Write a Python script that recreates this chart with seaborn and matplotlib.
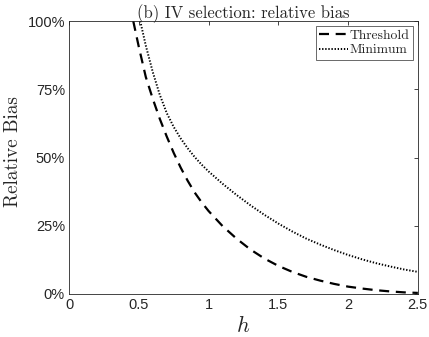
import numpy as np
import pandas as pd
import matplotlib
matplotlib.use("Agg")
import matplotlib.pyplot as plt
import seaborn as sns
from matplotlib.ticker import FuncFormatter

# values (relative bias in %)
h_threshold = [0.46, 0.5, 0.55, 0.6, 0.65, 0.7, 0.75, 0.8, 0.85, 0.9, 0.95, 1.0,
               1.1, 1.2, 1.3, 1.4, 1.5, 1.6, 1.7, 1.8, 1.9, 2.0, 2.1, 2.2, 2.3, 2.4, 2.5]
bias_threshold = [100, 90.5, 79.5, 71.5, 64.2, 57.7, 51.7, 46.3, 41.5, 37.2, 33.6, 30.4,
                  24.9, 20.3, 16.3, 13.0, 10.3, 8.1, 6.3, 4.9, 3.7, 2.7, 2.0, 1.4, 0.95, 0.6, 0.4]

h_minimum = [0.51, 0.55, 0.6, 0.65, 0.7, 0.75, 0.8, 0.85, 0.9, 0.95, 1.0,
             1.1, 1.2, 1.3, 1.4, 1.5, 1.6, 1.7, 1.8, 1.9, 2.0, 2.1, 2.2, 2.3, 2.4, 2.5]
bias_minimum = [100, 91.0, 81.3, 73.0, 66.3, 61.2, 57.0, 53.4, 50.2, 47.4, 44.9,
                40.4, 36.3, 32.5, 29.0, 25.8, 22.9, 20.3, 18.1, 16.1, 14.3, 12.7, 11.3, 10.1, 9.0, 8.1]

x_ticks = [0, 0.5, 1, 1.5, 2, 2.5]
y_ticks = [0, 25, 50, 75, 100]

df_t = pd.DataFrame({"h": h_threshold, "bias": bias_threshold})
df_m = pd.DataFrame({"h": h_minimum, "bias": bias_minimum})

sns.set_style("white")
plt.rcParams["mathtext.fontset"] = "cm"
serif = "cmr10"
tick_font = "Liberation Sans"

fig = plt.figure(figsize=(4.29, 3.37), dpi=100)
ax = fig.add_axes([0.161, 0.1276, 0.813, 0.81])

sns.lineplot(data=df_t, x="h", y="bias", ax=ax, color="black", lw=1.6,
             linestyle=(0, (4.5, 3)), label="Threshold")
sns.lineplot(data=df_m, x="h", y="bias", ax=ax, color="black", lw=1.4,
             linestyle=(0, (0.7, 0.9)), label="Minimum")

ax.set_xlim(0, 2.5)
ax.set_ylim(0, 100)
ax.set_xticks(x_ticks)
ax.set_yticks(y_ticks)
ax.xaxis.set_major_formatter(FuncFormatter(lambda v, p: f"{v:g}"))
ax.yaxis.set_major_formatter(FuncFormatter(lambda v, p: f"{v:g}%"))
for lab in ax.get_xticklabels() + ax.get_yticklabels():
    lab.set_fontfamily(tick_font)
    lab.set_fontsize(10.5)
    lab.set_color("#262626")
ax.tick_params(direction="in", length=3, width=0.6, color="#262626",
               top=True, right=True, pad=3)
for s in ax.spines.values():
    s.set_color("#262626")
    s.set_linewidth(0.6)

ax.set_title("(b) IV selection: relative bias", fontfamily=serif, fontsize=12, pad=2)
ax.set_xlabel("$h$", fontsize=16, labelpad=2)
ax.set_ylabel("Relative Bias", fontfamily=serif, fontsize=13.8, labelpad=6)
ax.yaxis.set_label_coords(-0.135, 0.52)

leg = ax.legend(loc="upper right", prop={"family": serif, "size": 9.8},
                frameon=True, fancybox=False, handlelength=2.1, handletextpad=0.15,
                borderpad=0.25, labelspacing=0.15, borderaxespad=0.35)
leg.get_frame().set_edgecolor("#262626")
leg.get_frame().set_linewidth(0.6)

fig.savefig("out.png", dpi=100)
